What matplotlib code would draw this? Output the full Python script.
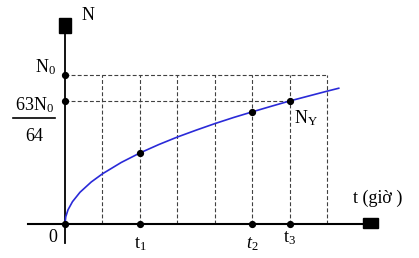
import matplotlib
matplotlib.use("Agg")
import matplotlib.pyplot as plt
from matplotlib.patches import Rectangle

plt.rcParams['font.family'] = ['Liberation Serif', 'DejaVu Serif']
plt.rcParams['mathtext.fontset'] = 'custom'
plt.rcParams['mathtext.rm'] = 'Liberation Serif'
plt.rcParams['mathtext.it'] = 'Liberation Serif:italic'

# grille (pas de temps) et niveaux
grid_t = [1, 2, 3, 4, 5, 6, 7]
level_n0 = 1.0
level_63 = 0.826

# instants marqués sur l'axe
t_marks = [2, 5, 6]
t_labels = [r"t$_1$", r"$\mathit{t_2}$", r"t$_3$"]
n_marks = [0.477, 0.753, 0.826]

# courbe
curve_t = [0, 0.02, 0.08, 0.2, 0.4, 0.7, 1, 1.5, 2, 2.5, 3, 3.5, 4, 4.5,
           5, 5.5, 6, 6.5, 7, 7.3]
curve_n = [0, 0.048, 0.095, 0.15, 0.213, 0.282, 0.337, 0.413, 0.477, 0.533,
           0.584, 0.63, 0.674, 0.715, 0.753, 0.79, 0.826, 0.859, 0.892, 0.911]

fig = plt.figure(figsize=(4.19, 2.58), dpi=100)
ax = fig.add_axes([0, 0, 1, 1])
ax.set_xlim(-1.733, 9.44)
ax.set_ylim(-0.228, 1.503)
ax.axis("off")

dash = dict(color="#404040", lw=0.8, ls=(0, (3.5, 2)))

# lignes pointillées
for t in grid_t:
    ax.plot([t, t], [0, level_n0], **dash)
ax.plot([0, grid_t[-1]], [level_n0, level_n0], **dash)
ax.plot([0, t_marks[-1]], [level_63, level_63], **dash)

# axes
ax.plot([-0.99, 7.95], [0, 0], color="black", lw=1.5)
ax.plot([0, 0], [-0.128, 1.28], color="black", lw=1.3)
ax.add_patch(Rectangle((-0.16, 1.28), 0.32, 0.10, color="black"))
ax.add_patch(Rectangle((7.95, -0.027), 0.40, 0.067, color="black"))

# courbe
ax.plot(curve_t, curve_n, color="#2a2ad8", lw=1.2)

# points
ms = 4.2
ax.plot([0, 0, 0], [0, level_n0, level_63], "o", color="black", ms=ms)
ax.plot(t_marks, [0] * len(t_marks), "o", color="black", ms=ms)
ax.plot(t_marks, n_marks, "o", color="black", ms=ms)

fs = 13
ax.text(0.61, 1.396, "N", fontsize=fs, ha="center", va="center")
ax.text(-0.25, 1.054, r"N$_0$", fontsize=fs, ha="right", va="center")
ax.text(-0.82, 0.80, r"63N$_0$", fontsize=fs, ha="center", va="center")
ax.plot([-1.39, -0.27], [0.71, 0.71], color="black", lw=1.2)
ax.text(-0.82, 0.59, "64", fontsize=fs, ha="center", va="center")
ax.text(-0.32, -0.09, "0", fontsize=fs, ha="center", va="center")
ax.text(6.1, 0.71, r"N$_\mathrm{Y}$", fontsize=fs, ha="left", va="center")
ax.text(8.35, 0.17, "t (giờ )", fontsize=fs, ha="center", va="center")

label_y = [-0.135, -0.135, -0.095]
for t, lab, ly in zip(t_marks, t_labels, label_y):
    ax.text(t, ly, lab, fontsize=fs, ha="center", va="center")

fig.savefig("out.png", dpi=100)
